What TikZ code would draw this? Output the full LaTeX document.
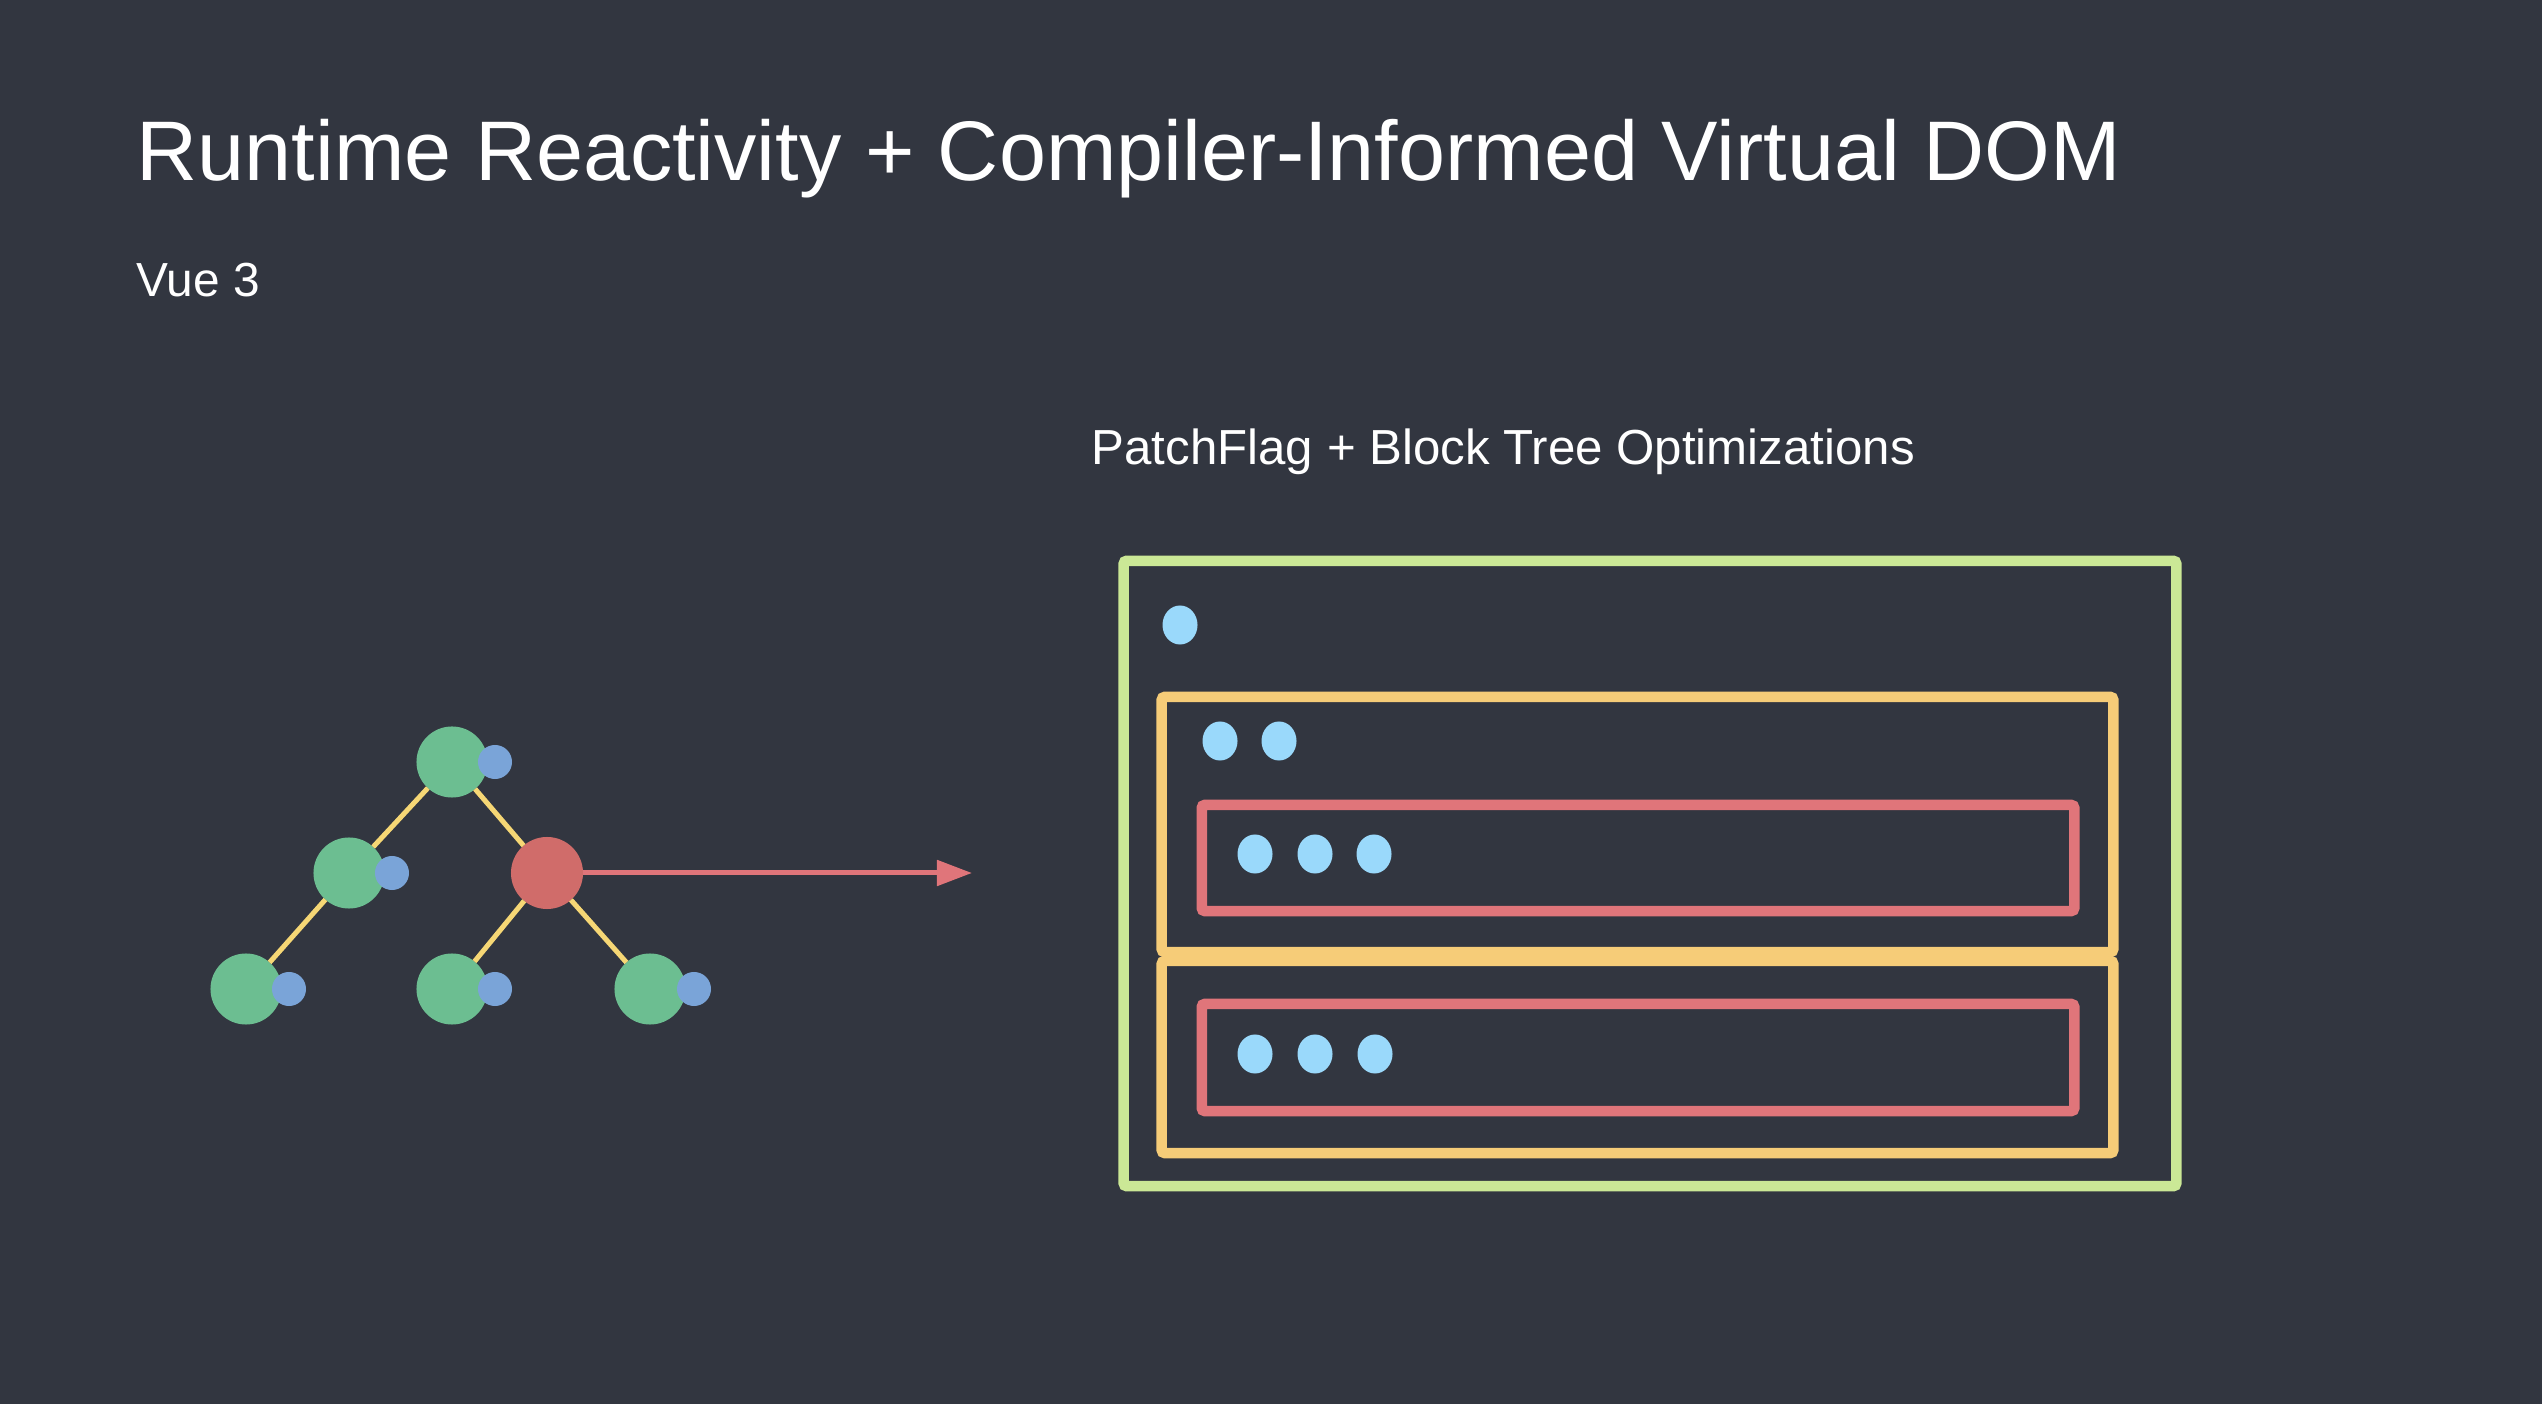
\documentclass[tikz,border=0pt]{standalone}
\usepackage{fontspec}
\setmainfont{Liberation Sans}
\usetikzlibrary{arrows.meta,shapes.geometric}
\definecolor{bgc}{HTML}{323640}
\definecolor{treegreen}{HTML}{6CBE91}
\definecolor{treeblue}{HTML}{7AA4D8}
\definecolor{treered}{HTML}{D06C6A}
\definecolor{edgeyellow}{HTML}{F6D775}
\definecolor{arrowred}{HTML}{E0757A}
\definecolor{boxgreen}{HTML}{CBE896}
\definecolor{boxorange}{HTML}{F6CC78}
\definecolor{boxred}{HTML}{E0757A}
\definecolor{dotblue}{HTML}{9AD9FB}
\tikzset{
  vnode/.style={circle, fill=treegreen, minimum size=0.71cm, inner sep=0pt, outer sep=0pt},
  hotnode/.style={circle, fill=treered, minimum size=0.72cm, inner sep=0pt, outer sep=0pt},
  flagdot/.style={circle, fill=treeblue, minimum size=0.34cm, inner sep=0pt, outer sep=0pt},
  treeedge/.style={draw=edgeyellow, line width=0.05cm},
  blockbox/.style={draw, line width=0.105cm, rounded corners=0.03cm, inner sep=0pt, outer sep=0pt},
  slotdot/.style={ellipse, fill=dotblue, minimum width=0.35cm, minimum height=0.39cm, inner sep=0pt},
  titletext/.style={text=white, anchor=base west, inner sep=0pt},
}
\begin{document}
\begin{tikzpicture}[x=0.01cm, y=-0.01cm]
\fill[bgc] (0,0) rectangle (2542,1404);
\useasboundingbox (0,0) rectangle (2542,1404);

% texts
\node[titletext, font=\fontsize{24.05}{29}\selectfont] (title) at (136,181) {Runtime Reactivity + Compiler-Informed Virtual DOM};
\node[titletext, font=\fontsize{13.6}{16}\selectfont] (sub) at (136,297) {Vue 3};
\node[titletext, font=\fontsize{14}{17}\selectfont] (block) at (1091,465) {PatchFlag + Block Tree Optimizations};

% tree
\node[vnode] (root) at (452,762) {};
\node[vnode] (lm) at (349,873) {};
\node[hotnode] (rm) at (547,873) {};
\node[vnode] (b1) at (246,989) {};
\node[vnode] (b2) at (452,989) {};
\node[vnode] (b3) at (650,989) {};
\path[treeedge] (root) -- (lm);
\path[treeedge] (root) -- (rm);
\path[treeedge] (lm) -- (b1);
\path[treeedge] (rm) -- (b2);
\path[treeedge] (rm) -- (b3);
\node[flagdot] (fr) at (495,762) {};
\node[flagdot] (flm) at (392,873) {};
\node[flagdot] (fb1) at (289,989) {};
\node[flagdot] (fb2) at (495,989) {};
\node[flagdot] (fb3) at (694,989) {};

\coordinate (tip) at (972,873);
\draw[arrowred, line width=0.05cm, -{Triangle[length=0.35cm, width=0.25cm]}] (rm) -- (tip);

% blocks
\node[blockbox, draw=boxgreen, minimum width=10.52cm, minimum height=6.25cm] (outer) at (1650,873.5) {};
\node[blockbox, draw=boxorange, minimum width=9.51cm, minimum height=2.55cm] (blk1) at (1637.5,824.5) {};
\node[blockbox, draw=boxorange, minimum width=9.51cm, minimum height=1.92cm] (blk2) at (1637.5,1057) {};
\node[blockbox, draw=boxred, minimum width=8.72cm, minimum height=1.06cm] (dyn1) at (1638,858) {};
\node[blockbox, draw=boxred, minimum width=8.72cm, minimum height=1.07cm] (dyn2) at (1638,1057.5) {};

\node[slotdot] (d0) at (1180,625) {};
\node[slotdot] (d1) at (1220,741) {};
\node[slotdot] (d2) at (1279,741) {};
\node[slotdot] (d3) at (1255,854) {};
\node[slotdot] (d4) at (1315,854) {};
\node[slotdot] (d5) at (1374,854) {};
\node[slotdot] (d6) at (1255,1054) {};
\node[slotdot] (d7) at (1315,1054) {};
\node[slotdot] (d8) at (1375,1054) {};
\end{tikzpicture}
\end{document}
